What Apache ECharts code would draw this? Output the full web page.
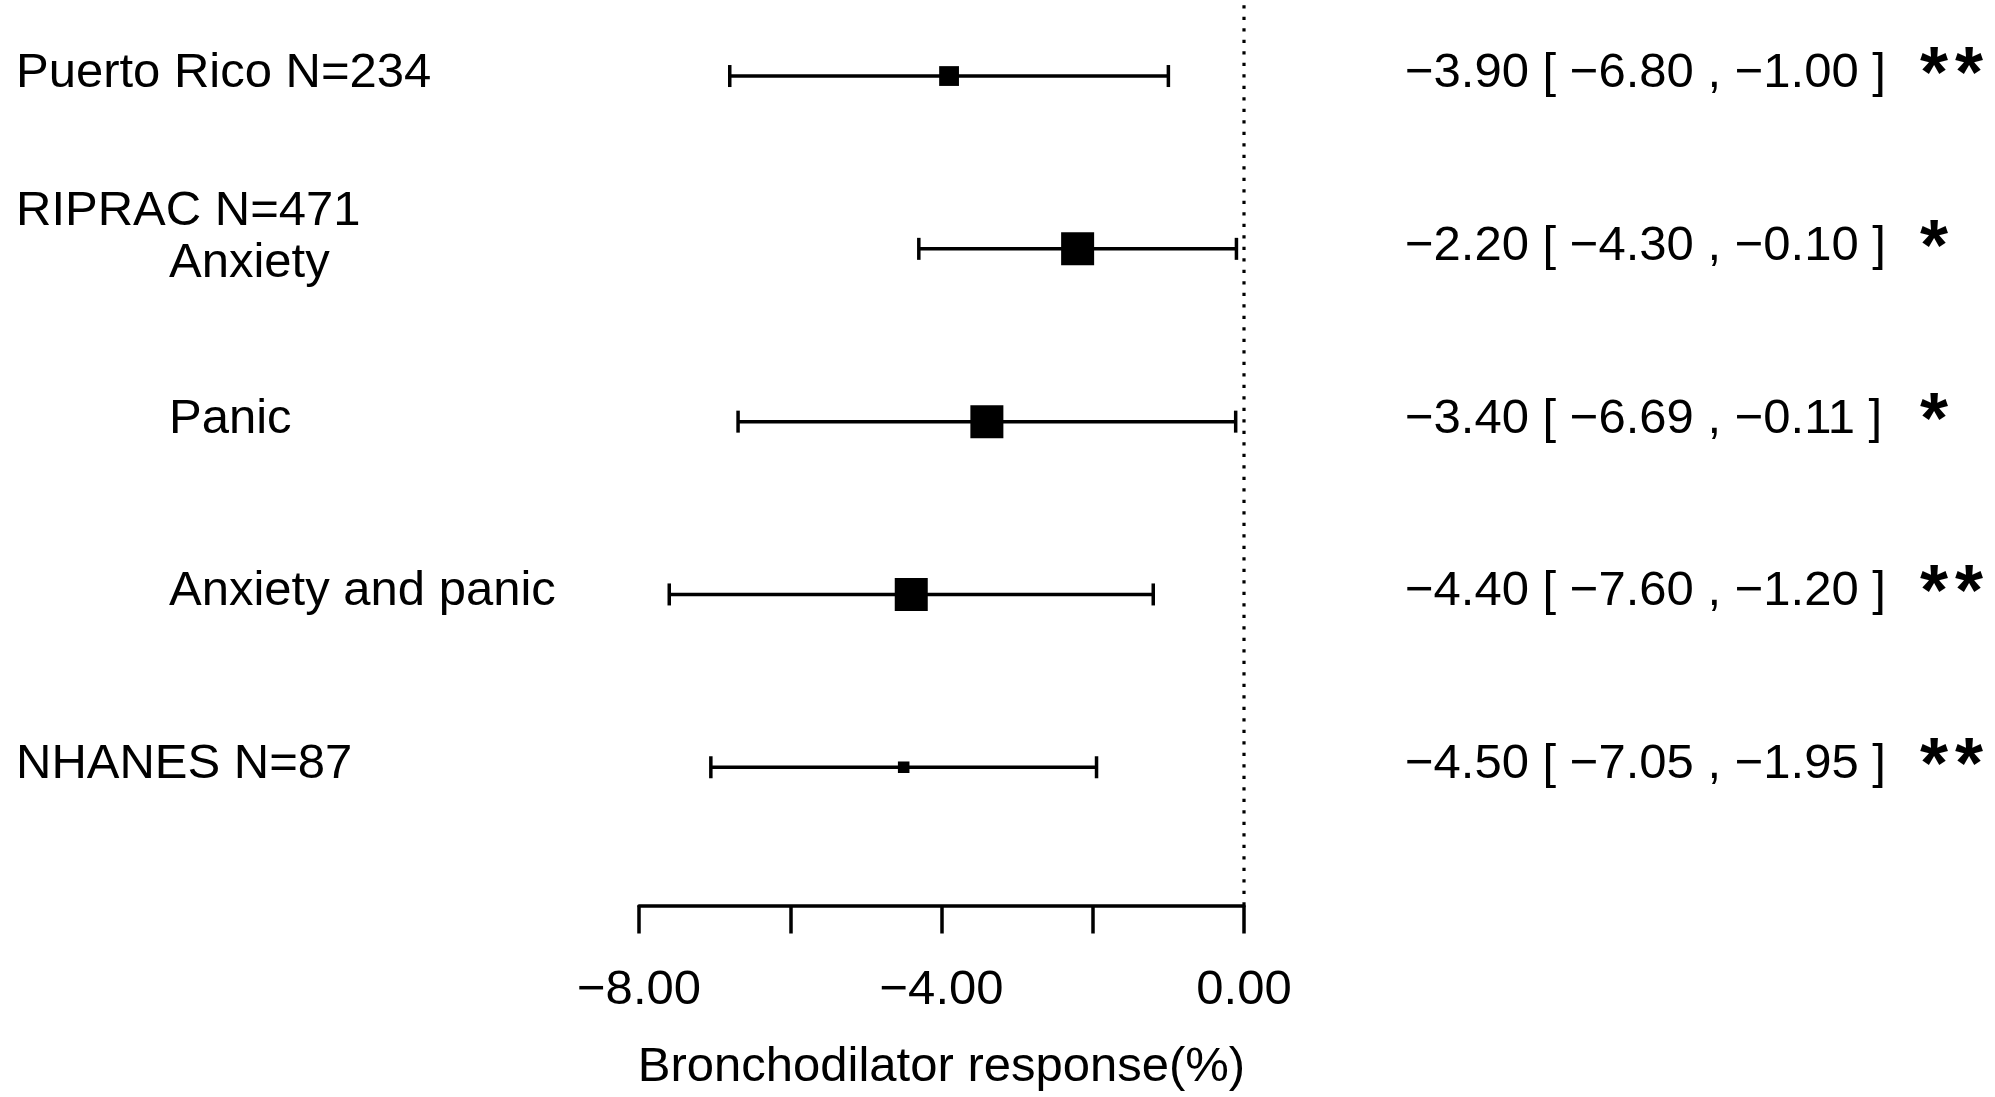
<!DOCTYPE html>
<html>
<head>
<meta charset="utf-8">
<script src="https://cdn.jsdelivr.net/npm/echarts@6/dist/echarts.min.js"></script>
<style>
  html, body { margin: 0; padding: 0; background: #fff; }
  #chart { width: 1995px; height: 1097px; }
</style>
</head>
<body>
<div id="chart"></div>
<script>
// Forest plot: bronchodilator response by study / subgroup
const rowLabels = ['Puerto Rico N=234', 'Anxiety', 'Panic', 'Anxiety and panic', 'NHANES N=87'];
const groupHeaders = ['', 'RIPRAC N=471', '', '', ''];
const indented = [false, true, true, true, false];
const estimates = [-3.90, -2.20, -3.40, -4.40, -4.50];
const lowerCI = [-6.80, -4.30, -6.69, -7.60, -7.05];
const upperCI = [-1.00, -0.10, -0.11, -1.20, -1.95];
const significance = ['**', '*', '*', '**', '**'];
const relWeights = [0.6, 1, 1, 1, 0.35];
const labeledTicks = [-8, -4, 0];
const xTitle = 'Bronchodilator response(%)';

const FONT = 'Liberation Sans';
const FS = 49;
const nRows = rowLabels.length;

// signed number with a true minus sign, two decimals
function fmt(v) {
  const s = Math.abs(v).toFixed(2);
  return (v < 0 ? '\u2212' : '') + s;
}

const rows = rowLabels.map((_, i) => [i, estimates[i], lowerCI[i], upperCI[i], nRows - i]);

const chart = echarts.init(document.getElementById('chart'), null, { renderer: 'canvas' });

const textBase = { fontFamily: FONT, fontSize: FS, fill: '#000', verticalAlign: 'middle' };

chart.setOption({
  backgroundColor: '#fff',
  animation: false,
  grid: { left: 639, right: 751, top: 0, bottom: 183, containLabel: false },
  xAxis: {
    type: 'value',
    min: -8,
    max: 0,
    interval: 2,
    splitLine: { show: false },
    axisLine: { show: true, onZero: false, lineStyle: { color: '#000', width: 3.5 } },
    axisTick: { show: true, length: 28, lineStyle: { color: '#000', width: 3.5 } },
    axisLabel: {
      margin: 60,
      fontFamily: FONT,
      fontSize: FS,
      color: '#000',
      formatter: v => labeledTicks.includes(v) ? fmt(v) : ''
    },
    name: xTitle,
    nameLocation: 'middle',
    nameGap: 162,
    nameTextStyle: { fontFamily: FONT, fontSize: FS, color: '#000', verticalAlign: 'middle' }
  },
  yAxis: { type: 'value', min: 0.2, max: 5.44, show: false },
  series: [
    {
      // dotted reference line at zero effect
      type: 'line',
      data: [[0, 0.2], [0, 5.44]],
      symbol: 'none',
      silent: true,
      lineStyle: { color: '#000', width: 3.2, type: [3.2, 8.3] },
      z: 1
    },
    {
      type: 'custom',
      data: rows,
      clip: false,
      z: 3,
      renderItem(params, api) {
        const i = api.value(0);
        const yv = api.value(4);
        const pLo = api.coord([api.value(2), yv]);
        const pHi = api.coord([api.value(3), yv]);
        const pEst = api.coord([api.value(1), yv]);
        const yc = pEst[1];
        const cap = 11;
        const box = 33 * relWeights[i];
        const lineStyle = { stroke: '#000', lineWidth: 3.5 };
        const hasHeader = groupHeaders[i] !== '';
        const children = [
          { type: 'line', shape: { x1: pLo[0], y1: yc, x2: pHi[0], y2: yc }, style: lineStyle },
          { type: 'line', shape: { x1: pLo[0], y1: yc - cap, x2: pLo[0], y2: yc + cap }, style: lineStyle },
          { type: 'line', shape: { x1: pHi[0], y1: yc - cap, x2: pHi[0], y2: yc + cap }, style: lineStyle },
          { type: 'rect', shape: { x: pEst[0] - box / 2, y: yc - box / 2, width: box, height: box }, style: { fill: '#000' } },
          {
            type: 'text',
            x: indented[i] ? 169 : 16,
            y: yc + (hasHeader ? 15 : -2.5),
            style: Object.assign({ text: rowLabels[i], align: 'left' }, textBase)
          },
          {
            type: 'text',
            x: 1405,
            y: yc - 2.5,
            style: Object.assign({
              text: fmt(estimates[i]) + ' [ ' + fmt(lowerCI[i]) + ' , ' + fmt(upperCI[i]) + ' ]',
              align: 'left'
            }, textBase)
          }
        ];
        if (hasHeader) {
          children.push({
            type: 'text',
            x: 16,
            y: yc - 37,
            style: Object.assign({ text: groupHeaders[i], align: 'left' }, textBase)
          });
        }
        significance[i].split('').forEach((ch, k) => {
          children.push({
            type: 'text',
            x: 1920 + k * 35,
            y: yc + 1,
            style: { text: ch, fontFamily: FONT, fontSize: 72, fontWeight: 'bold', fill: '#000', align: 'left', verticalAlign: 'middle' }
          });
        });
        return { type: 'group', children };
      }
    }
  ]
});
</script>
</body>
</html>
